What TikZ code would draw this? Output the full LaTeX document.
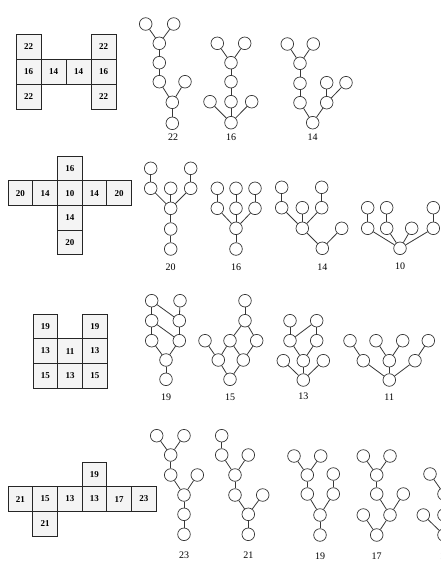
\documentclass[tikz,border=0pt]{standalone}
\usepackage{fontspec}
\setmainfont{Liberation Serif}
\usepackage{xcolor}
\usepackage{tikz}
\definecolor{inkgray}{RGB}{55,55,55}
\definecolor{cellfill}{RGB}{244,244,244}
\tikzset{
  vx/.style={circle,draw=inkgray,fill=white,line width=0.7pt,minimum size=12.6pt,inner sep=0pt},
  ed/.style={draw=inkgray,line width=0.8pt},
  cell/.style={draw=black!85,fill=cellfill,line width=0.8pt,minimum size=24.7pt,inner sep=0pt,
               font=\fontsize{9}{10}\selectfont\bfseries},
  lbl/.style={font=\fontsize{10}{12}\selectfont,inner sep=0pt}
}
% one small graph: prefix, vertices (name/x/y), edges (name/name)
\newcommand{\gtree}[3]{%
  \foreach \i/\x/\y in {#2} \node[vx] (#1-\i) at (\x,\y) {};
  \foreach \s/\t in {#3} \draw[ed] (#1-\s) -- (#1-\t);
}

\begin{document}
\begin{tikzpicture}[x=1pt,y=-1pt]
  \fill[white] (0,0) rectangle (440,563);
  \useasboundingbox (0,0) rectangle (440,563);

  % grids
  \foreach \c/\r/\v in {0/0/22,0/1/16,1/1/14,2/1/14,3/1/16,0/2/22,3/0/22,3/2/22}
    \node[cell,minimum size=25pt] (ga-\c-\r) at ({28.5+25*\c},{46.5+25*\r}) {\v};
  \foreach \c/\r/\v in {2/0/16,0/1/20,1/1/14,2/1/10,3/1/14,4/1/20,2/2/14,2/3/20}
    \node[cell] (gb-\c-\r) at ({20.35+24.7*\c},{168.35+24.7*\r}) {\v};
  \foreach \c/\r/\v in {0/0/19,2/0/19,0/1/13,1/1/11,2/1/13,0/2/15,1/2/13,2/2/15}
    \node[cell] (gc-\c-\r) at ({45.35+24.7*\c},{326.35+24.7*\r}) {\v};
  \foreach \c/\r/\v in {3/0/19,0/1/21,1/1/15,2/1/13,3/1/13,4/1/17,5/1/23,1/2/21}
    \node[cell] (gd-\c-\r) at ({20.35+24.7*\c},{474.35+24.7*\r}) {\v};

  % first row
  \gtree{p1}{1/145.7/24,2/173.7/24,3/159.3/43.3,4/159.3/62.7,5/159.3/81.7,6/185/81.7,7/172.3/102.3,8/172.3/123.3}
    {1/3,2/3,3/4,4/5,5/7,6/7,7/8}
  \node[lbl] (p1-lbl) at (173,137) {22};
  \gtree{p2}{1/217.3/43.3,2/244.7/43.3,3/231/62.7,4/231/81.7,5/231/101.7,6/210/101.7,7/251.7/101.7,8/231/122.7}
    {1/3,2/3,3/4,4/5,5/8,6/8,7/8}
  \node[lbl] (p2-lbl) at (231,137) {16};
  \gtree{p3}{1/287.3/44,2/313.3/44,3/300/63.3,4/300/83.3,5/300/102.7,6/312.7/122.7,7/326.7/102.7,8/326.7/82.7,9/346/82.7}
    {1/3,2/3,3/4,4/5,5/6,7/6,8/7,9/7}
  \node[lbl] (p3-lbl) at (312.7,137.3) {14};

  % second row
  \gtree{q1}{1/150.7/168.3,2/150.7/188.3,3/170.7/188.3,4/190.7/168.3,5/190.7/188.3,6/170.7/208.3,7/170.7/229,8/170.7/249}
    {1/2,2/6,3/6,4/5,5/6,6/7,7/8}
  \node[lbl] (q1-lbl) at (170.7,267.3) {20};
  \gtree{q2}{1/217.3/188.3,2/236/188.3,3/255/188.3,4/217.3/208.3,5/236/208.3,6/255/208.3,7/236/228.3,8/236/249}
    {1/4,2/5,3/6,4/7,5/7,6/7,7/8}
  \node[lbl] (q2-lbl) at (236,267.3) {16};
  \gtree{q3}{1/281.7/187.3,2/281.7/207.7,3/302.3/207.7,4/321.7/187.3,5/321.7/207.7,6/302.3/228.3,7/322.3/248.3,8/341.7/228.3}
    {1/2,2/6,3/6,4/5,5/6,6/7,8/7}
  \node[lbl] (q3-lbl) at (322.3,266.7) {14};
  \gtree{q4}{1/367.7/207.7,2/386.7/207.7,3/433.3/207.7,4/367.7/228.3,5/386.7/228.3,6/411.7/228.3,7/433.3/228.3,8/400/248.3}
    {1/4,2/5,3/7,4/8,5/8,6/8,7/8}
  \node[lbl] (q4-lbl) at (400,266.7) {10};

  % third row
  \gtree{s1}{1/151.7/300.7,2/180/300.7,3/151.7/320.7,4/179.3/320.7,5/151.7/340.7,6/179.3/340.7,7/166/360,8/166/379.3}
    {1/3,1/4,2/4,3/5,3/6,4/6,5/7,6/7,7/8}
  \node[lbl] (s1-lbl) at (166,397.3) {19};
  \gtree{s2}{1/245/300.7,2/245/320.7,3/205/340.7,4/230/340.7,5/256.7/340.7,6/218.3/360,7/243.3/360,8/230/379.3}
    {1/2,2/4,2/5,3/6,4/6,4/7,5/7,6/8,7/8}
  \node[lbl] (s2-lbl) at (230,397.3) {15};
  \gtree{s3}{1/290/320.7,2/316.7/320.7,3/290/340.7,4/316.7/340.7,5/303.3/360.7,6/283.3/360.7,7/323.3/360.7,8/303.3/380}
    {1/3,3/2,2/4,3/5,4/5,5/8,6/8,7/8}
  \node[lbl] (s3-lbl) at (303.3,396.7) {13};
  \gtree{s4}{1/350/340.7,2/376/340.7,3/402.7/340.7,4/428.3/340.7,5/363.3/360.7,6/389.3/360.7,7/415/360.7,8/389.3/380}
    {1/5,2/6,3/6,4/7,5/8,6/8,7/8}
  \node[lbl] (s4-lbl) at (389.3,396.7) {11};

  % fourth row
  \gtree{u1}{1/156.7/435.7,2/184/435.7,3/170.7/455,4/170.7/475,5/197.3/475,6/184/495,7/184/514.3,8/184/534.3}
    {1/3,2/3,3/4,4/6,5/6,6/7,7/8}
  \node[lbl] (u1-lbl) at (184,555) {23};
  \gtree{u2}{1/221.7/435.7,2/221.7/455,3/248.3/455,4/235/475,5/235/495,6/262.7/495,7/248.3/514.3,8/248.3/534.3}
    {1/2,2/4,3/4,4/5,5/7,6/7,7/8}
  \node[lbl] (u2-lbl) at (248.3,555) {21};
  \gtree{u3}{1/294/456,2/320.7/456,3/307.3/475,4/307.3/494,5/333.3/474,6/333.3/494,7/320/515,8/320/535}
    {1/3,2/3,3/4,4/7,5/6,6/7,7/8}
  \node[lbl] (u3-lbl) at (320,556) {19};
  \gtree{u4}{1/363.3/456,2/390/456,3/376.7/475,4/376.7/494,5/403.3/494,6/390/515,7/363.3/515,8/376.7/535}
    {1/3,2/3,3/4,4/6,5/6,6/8,7/8}
  \node[lbl] (u4-lbl) at (376.7,556) {17};
  \gtree{u5}{1/430/474,2/444/494,3/444/515,4/423.3/515,5/444/535}
    {1/2,2/3,3/5,4/5}
  \node[lbl] (u5-lbl) at (445,556) {15};
\end{tikzpicture}
\end{document}
